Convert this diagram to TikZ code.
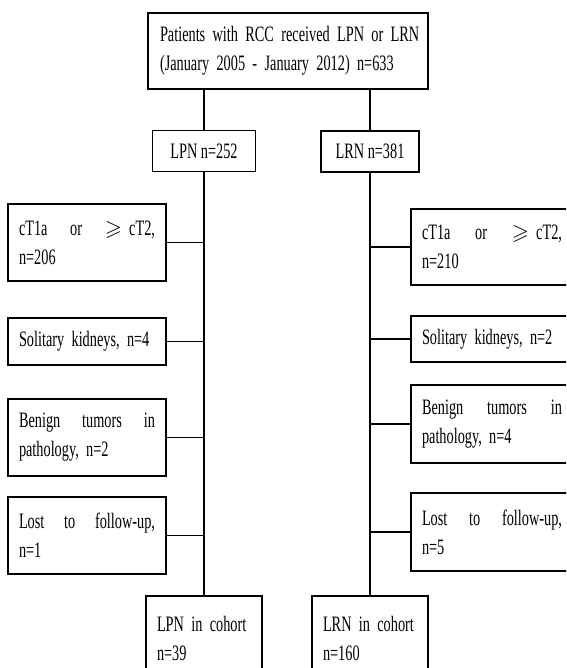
\documentclass[tikz,border=0pt]{standalone}
\usepackage{amssymb}
\usepackage{fontspec}
\setmainfont[FakeStretch=0.65]{Liberation Serif}
\usetikzlibrary{positioning}

% first line of a box, spread over the full text width
\newcommand{\fullline}[1]{\makebox[\hsize][s]{#1}}

\begin{document}
\begin{tikzpicture}[
		x=1pt, y=-1pt,
		font=\fontsize{22}{29}\selectfont,
		% Styles
		armbox/.style={draw, line width=1.1pt, inner xsep=4pt, inner ysep=0pt, align=center},
		textbox/.style={draw, line width=1.1pt, inner xsep=11pt, inner ysep=0pt, align=left},
		exclleft/.style={textbox, text width=136pt, minimum height=77pt},
		exclright/.style={textbox, text width=140pt, minimum height=77pt},
		link/.style={draw, line width=1.1pt}
		]
		
		% canvas
		\fill[white] (0,0) rectangle (566,668);
		\useasboundingbox (0,0) rectangle (566,668);
		\clip (0,0) rectangle (566,668);
		
		% =========================================================
		% 1. ALL PATIENTS AND THE TWO ARMS
		% =========================================================
		\node[textbox, inner xsep=12pt, text width=256pt, minimum height=76pt] (All) at (288, 51) {\mbox{Patients with RCC received LPN or LRN}\\(January 2005 - January 2012) n=633};
		
		\node[armbox, minimum width=103pt, minimum height=41pt] (LPN) at (204, 151) {LPN n=252};
		\node[armbox, minimum width=98pt, minimum height=41pt] (LRN) at (370, 151.5) {LRN n=381};
		
		% =========================================================
		% 2. LEFT SIDE: exclusions from LPN
		% =========================================================
		\node[exclleft] (ExT1) at (87, 242.5) {\fullline{cT1a \hfill or \hfill $\geqslant$ cT2,}\\n=206};
		\node[exclleft, minimum height=47pt] (ExS1) at (87, 341.5) {\mbox{Solitary kidneys, n=4}};
		\node[exclleft] (ExB1) at (87, 437.5) {\fullline{Benign \hfill tumors \hfill in}\\pathology, n=2};
		\node[exclleft] (ExL1) at (87, 535.5) {\fullline{Lost \hfill to \hfill follow-up,}\\n=1};
		
		% =========================================================
		% 3. RIGHT SIDE: exclusions from LRN
		% =========================================================
		\node[exclright, minimum height=76pt] (ExT2) at (492, 247) {\fullline{cT1a \hfill or \hfill $\geqslant$ cT2,}\\n=210};
		\node[exclright, minimum height=46pt] (ExS2) at (492, 339) {\mbox{Solitary kidneys, n=2}};
		\node[exclright, minimum height=78pt] (ExB2) at (492, 424) {\fullline{Benign \hfill tumors \hfill in}\\pathology, n=4};
		\node[exclright, minimum height=78pt] (ExL2) at (492, 532) {\fullline{Lost \hfill to \hfill follow-up,}\\n=5};
		
		% =========================================================
		% 4. FINAL COHORTS
		% =========================================================
		\node[textbox, text width=94pt, minimum height=84pt] (CohP) at (204, 638) {\mbox{LPN in cohort}\\n=39};
		\node[textbox, text width=94pt, minimum height=84pt] (CohR) at (370, 638) {\mbox{LRN in cohort}\\n=160};
		
		% =========================================================
		% 5. CONNECTORS
		% =========================================================
		\draw[link] (All.south -| LPN.north) -- (LPN.north);
		\draw[link] (All.south -| LRN.north) -- (LRN.north);
		\draw[link] (LPN.south) -- (LPN.south |- CohP.north);
		\draw[link] (LRN.south) -- (LRN.south |- CohR.north);
		
		\foreach \ex in {ExT1, ExS1, ExB1, ExL1}
		\draw[link] (\ex.east) -- (\ex.east -| LPN.south);
		\foreach \ex in {ExT2, ExS2, ExB2, ExL2}
		\draw[link] (\ex.west) -- (\ex.west -| LRN.south);
		
	\end{tikzpicture}
\end{document}
